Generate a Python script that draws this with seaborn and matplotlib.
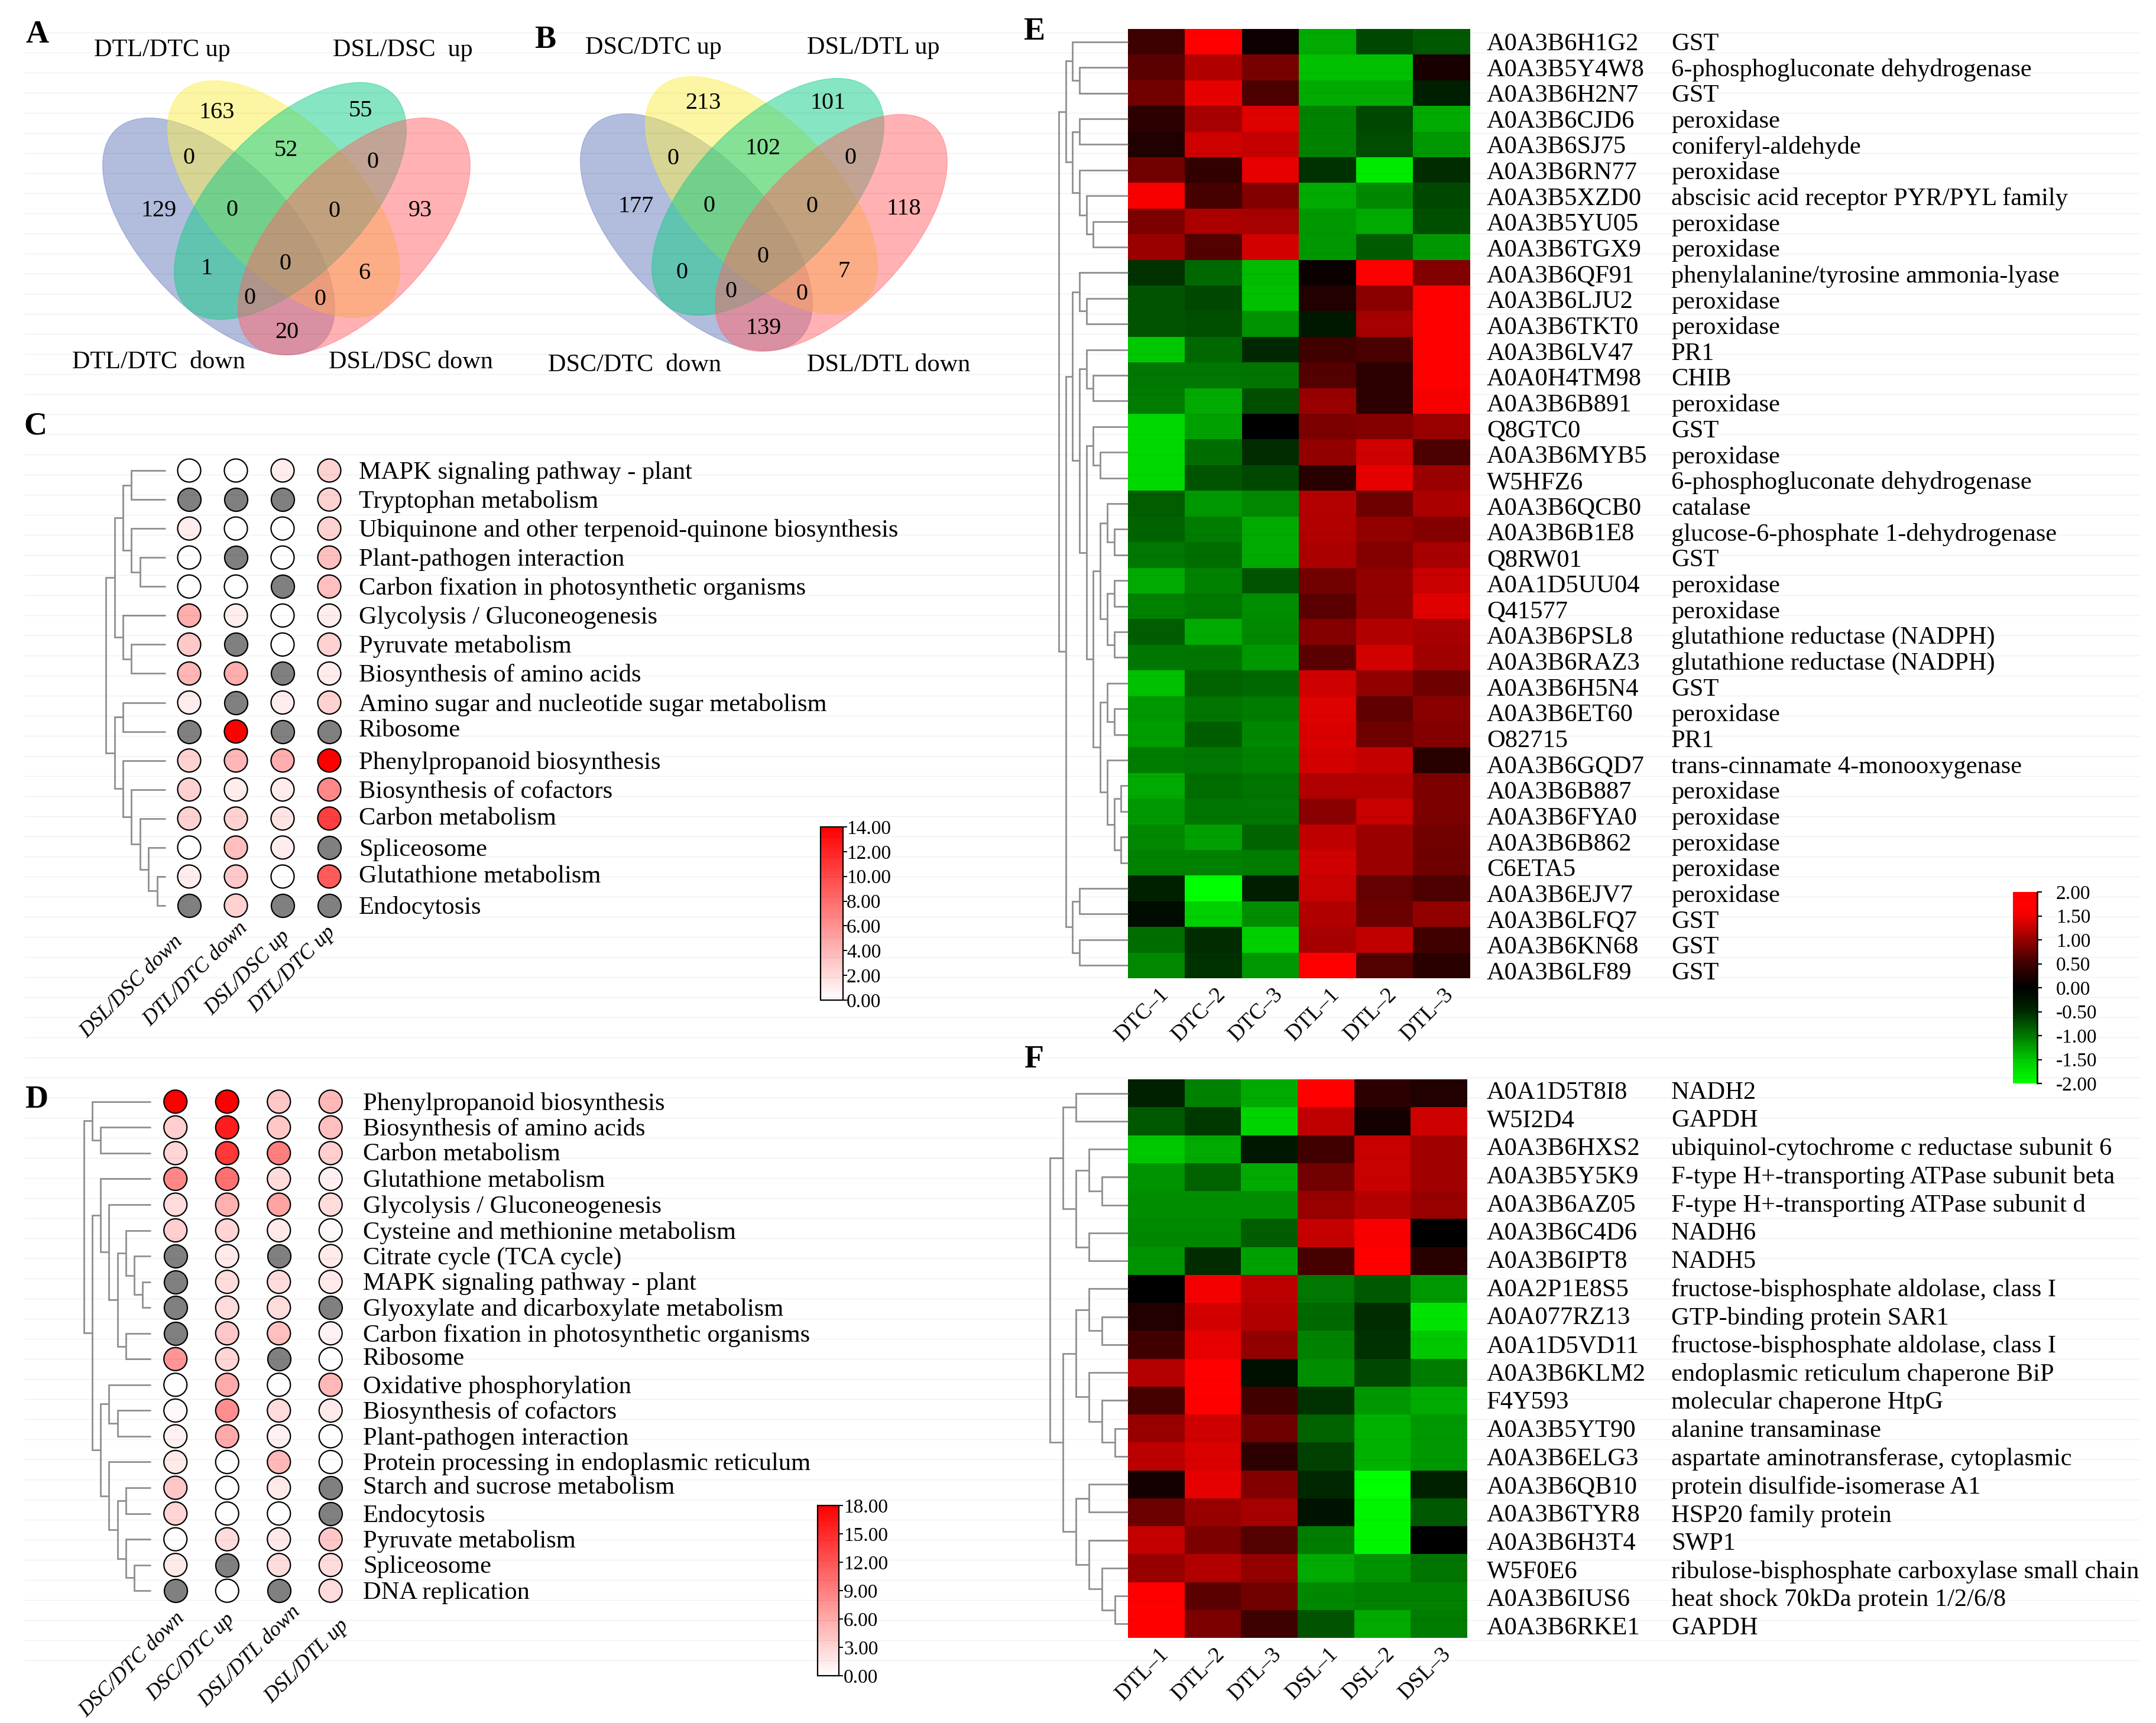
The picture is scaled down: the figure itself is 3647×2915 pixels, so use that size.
import numpy as np
import pandas as pd
import seaborn as sns
import matplotlib
matplotlib.use("Agg")
import matplotlib.pyplot as plt
from matplotlib.patches import Ellipse
from matplotlib.colors import LinearSegmentedColormap, Normalize
from matplotlib.cm import ScalarMappable
from matplotlib.transforms import ScaledTranslation

# ------------------------- DATA -------------------------
venn_a_sets = ["DTL/DTC up", "DSL/DSC  up", "DTL/DTC  down", "DSL/DSC down"]
venn_a_counts = [163, 55, 52, 0, 0, 129, 0, 0, 93, 1, 0, 6, 0, 0, 20]
venn_b_sets = ["DSC/DTC up", "DSL/DTL up", "DSC/DTC  down", "DSL/DTL down"]
venn_b_counts = [213, 101, 102, 0, 0, 177, 0, 0, 118, 0, 0, 7, 0, 0, 139]

nan = float("nan")
c_columns = ["DSL/DSC down", "DTL/DTC down", "DSL/DSC up", "DTL/DTC up"]
c_terms = ["MAPK signaling pathway - plant", "Tryptophan metabolism",
           "Ubiquinone and other terpenoid-quinone biosynthesis", "Plant-pathogen interaction",
           "Carbon fixation in photosynthetic organisms", "Glycolysis / Gluconeogenesis",
           "Pyruvate metabolism", "Biosynthesis of amino acids",
           "Amino sugar and nucleotide sugar metabolism", "Ribosome",
           "Phenylpropanoid biosynthesis", "Biosynthesis of cofactors", "Carbon metabolism",
           "Spliceosome", "Glutathione metabolism", "Endocytosis"]
c_values = [[0, 0, 1, 2.5], [nan, nan, nan, 2.5], [1, 0, 0, 2.5], [0, nan, 0, 3.5],
            [0, 0, nan, 3.5], [4.5, 1, 0, 1], [3, nan, 0, 2.5], [4, 4.5, nan, 1],
            [1, nan, 1, 2.5], [nan, 14, nan, nan], [2.5, 4, 4.5, 14], [2.5, 1, 1, 6.5],
            [2.5, 2.5, 1.5, 10.5], [0, 3.5, 1, nan], [1, 3, 0, 9], [nan, 2.5, nan, nan]]
c_tree = (7, (6, (5, (4, 0, 1), (4, 2, (3, 3, 4))), (5, 5, (4, 6, 7))),
          (6, (5, 8, 9), (5, 10, (4, 11, (3, 12, (2, 13, (1, 14, 15)))))))

d_columns = ["DSC/DTC down", "DSC/DTC up", "DSL/DTL down", "DSL/DTL up"]
d_terms = ["Phenylpropanoid biosynthesis", "Biosynthesis of amino acids", "Carbon metabolism",
           "Glutathione metabolism", "Glycolysis / Gluconeogenesis",
           "Cysteine and methionine metabolism", "Citrate cycle (TCA cycle)",
           "MAPK signaling pathway - plant", "Glyoxylate and dicarboxylate metabolism",
           "Carbon fixation in photosynthetic organisms", "Ribosome", "Oxidative phosphorylation",
           "Biosynthesis of cofactors", "Plant-pathogen interaction",
           "Protein processing in endoplasmic reticulum", "Starch and sucrose metabolism",
           "Endocytosis", "Pyruvate metabolism", "Spliceosome", "DNA replication"]
d_values = [[18, 18, 4, 5], [3.5, 16, 4, 4.5], [3, 14, 9, 3.5], [8.5, 10, 2.5, 1],
            [2.5, 5.5, 6.5, 2.5], [3.5, 3, 1.5, 0.5], [nan, 1.5, nan, 1.5], [nan, 2.5, 2.5, 1.5],
            [nan, 2.5, 2.5, nan], [nan, 4, 4.5, 1], [7.5, 3, nan, 0], [0, 6, 0, 5],
            [0.5, 8, 2.5, 1.5], [1, 6, 1, 0], [1.5, 0, 5, 0], [4, 0, 1.5, nan],
            [3, 0, 0, nan], [0, 2.5, 1.5, 4], [1.5, nan, 2.5, 2.5], [nan, 0, nan, 2.5]]
d_tree = (8, (7, 0, (6, 1, 2)),
          (7, (6, 3, (5, 4, (4, (3, 5, (2, 6, (1, 7, 8))), (3, 9, 10)))),
           (6, (5, 11, (4, 12, 13)),
            (5, 14, (4, (3, 15, 16), (3, 17, (2, 18, 19)))))))

e_columns = ["DTC\u20131", "DTC\u20132", "DTC\u20133", "DTL\u20131", "DTL\u20132", "DTL\u20133"]
e_ids = ["A0A3B6H1G2", "A0A3B5Y4W8", "A0A3B6H2N7", "A0A3B6CJD6", "A0A3B6SJ75", "A0A3B6RN77",
         "A0A3B5XZD0", "A0A3B5YU05", "A0A3B6TGX9", "A0A3B6QF91", "A0A3B6LJU2", "A0A3B6TKT0",
         "A0A3B6LV47", "A0A0H4TM98", "A0A3B6B891", "Q8GTC0", "A0A3B6MYB5", "W5HFZ6",
         "A0A3B6QCB0", "A0A3B6B1E8", "Q8RW01", "A0A1D5UU04", "Q41577", "A0A3B6PSL8",
         "A0A3B6RAZ3", "A0A3B6H5N4", "A0A3B6ET60", "O82715", "A0A3B6GQD7", "A0A3B6B887",
         "A0A3B6FYA0", "A0A3B6B862", "C6ETA5", "A0A3B6EJV7", "A0A3B6LFQ7", "A0A3B6KN68",
         "A0A3B6LF89"]
e_desc = ["GST", "6-phosphogluconate dehydrogenase", "GST", "peroxidase", "coniferyl-aldehyde",
          "peroxidase", "abscisic acid receptor PYR/PYL family", "peroxidase", "peroxidase",
          "phenylalanine/tyrosine ammonia-lyase", "peroxidase", "peroxidase", "PR1", "CHIB",
          "peroxidase", "GST", "peroxidase", "6-phosphogluconate dehydrogenase", "catalase",
          "glucose-6-phosphate 1-dehydrogenase", "GST", "peroxidase", "peroxidase",
          "glutathione reductase (NADPH)", "glutathione reductase (NADPH)", "GST", "peroxidase",
          "PR1", "trans-cinnamate 4-monooxygenase", "peroxidase", "peroxidase", "peroxidase",
          "peroxidase", "peroxidase", "GST", "GST", "GST"]
e_values = [
    [0.5, 1.8, 0.12, -1.3, -0.7, -0.8], [0.67, 1.15, 0.83, -1.45, -1.45, 0.2],
    [0.8, 1.45, 0.58, -1.3, -1.3, -0.38], [0.37, 1.08, 1.4, -1.05, -0.7, -1.3],
    [0.28, 1.3, 1.25, -1.06, -0.72, -1.2], [0.8, 0.42, 1.45, -0.55, -1.8, -0.52],
    [1.6, 0.55, 0.88, -1.3, -1.1, -0.7], [0.85, 1.12, 1.08, -1.2, -1.3, -0.75],
    [1.03, 0.62, 1.33, -1.2, -0.82, -1.2], [-0.55, -0.9, -1.42, 0.08, 1.8, 0.88],
    [-0.78, -0.7, -1.45, 0.28, 0.93, 1.7], [-0.78, -0.75, -1.17, -0.3, 1.08, 1.8],
    [-1.5, -0.9, -0.5, 0.53, 0.57, 1.8], [-1.0, -1.0, -0.97, 0.63, 0.37, 1.8],
    [-1.03, -1.3, -0.75, 1.0, 0.37, 1.6], [-1.65, -1.25, 0.0, 0.85, 0.9, 1.0],
    [-1.65, -0.93, -0.53, 0.97, 1.3, 0.58], [-1.65, -0.78, -0.7, 0.33, 1.45, 1.03],
    [-0.83, -1.2, -1.1, 1.17, 0.78, 1.12], [-0.87, -1.03, -1.3, 1.15, 0.97, 0.9],
    [-1.0, -0.93, -1.3, 1.12, 0.9, 1.08], [-1.3, -1.06, -0.78, 0.8, 0.97, 1.28],
    [-1.06, -1.0, -1.13, 0.67, 0.97, 1.4], [-0.83, -1.3, -1.1, 0.9, 1.15, 1.08],
    [-1.0, -0.97, -1.2, 0.67, 1.33, 1.05], [-1.45, -0.87, -0.9, 1.3, 0.97, 0.78],
    [-1.2, -0.97, -1.03, 1.4, 0.7, 0.93], [-1.22, -0.83, -1.1, 1.37, 0.78, 0.9],
    [-1.03, -1.0, -1.06, 1.33, 1.25, 0.33], [-1.3, -0.93, -0.97, 1.15, 1.15, 0.85],
    [-1.2, -0.97, -1.0, 0.93, 1.28, 0.85], [-1.1, -1.25, -0.87, 1.22, 1.03, 0.8],
    [-1.06, -1.06, -1.03, 1.3, 1.03, 0.78], [-0.42, -2.0, -0.38, 1.28, 0.72, 0.58],
    [-0.15, -1.55, -1.13, 1.15, 0.75, 0.97], [-0.93, -0.53, -1.55, 1.08, 1.22, 0.53],
    [-1.1, -0.55, -1.2, 1.8, 0.62, 0.33]]
e_tree = (10,
          (9, (8, 0, (7, 1, 2)), (8, (7, 3, 4), (7, 5, (6, 6, (5, 7, 8))))),
          (9, (8, (7, 9, (6, 10, 11)),
               (7, (6, 12, (5, 13, 14)),
                (6, (5, 15, (4, 16, 17)),
                 (5, (4, (3, 18, (2, 19, 20)), (3, (2, 21, 22), (2, 23, 24))),
                  (4, (3, 25, (2, 26, 27)),
                   (3, 28, (2, (1, 29, 30), (1, 31, 32)))))))),
           (8, (7, 33, 34), (7, 35, 36))))

f_columns = ["DTL\u20131", "DTL\u20132", "DTL\u20133", "DSL\u20131", "DSL\u20132", "DSL\u20133"]
f_ids = ["A0A1D5T8I8", "W5I2D4", "A0A3B6HXS2", "A0A3B5Y5K9", "A0A3B6AZ05", "A0A3B6C4D6",
         "A0A3B6IPT8", "A0A2P1E8S5", "A0A077RZ13", "A0A1D5VD11", "A0A3B6KLM2", "F4Y593",
         "A0A3B5YT90", "A0A3B6ELG3", "A0A3B6QB10", "A0A3B6TYR8", "A0A3B6H3T4", "W5F0E6",
         "A0A3B6IUS6", "A0A3B6RKE1"]
f_desc = ["NADH2", "GAPDH", "ubiquinol-cytochrome c reductase subunit 6",
          "F-type H+-transporting ATPase subunit beta", "F-type H+-transporting ATPase subunit d",
          "NADH6", "NADH5", "fructose-bisphosphate aldolase, class I", "GTP-binding protein SAR1",
          "fructose-bisphosphate aldolase, class I", "endoplasmic reticulum chaperone BiP",
          "molecular chaperone HtpG", "alanine transaminase", "aspartate aminotransferase, cytoplasmic",
          "protein disulfide-isomerase A1", "HSP20 family protein", "SWP1",
          "ribulose-bisphosphate carboxylase small chain", "heat shock 70kDa protein 1/2/6/8", "GAPDH"]
f_values = [
    [-0.42, -1.06, -1.3, 1.8, 0.37, 0.28], [-0.8, -0.6, -1.6, 1.22, 0.17, 1.3],
    [-1.5, -1.3, -0.3, 0.53, 1.28, 1.05], [-1.17, -0.87, -1.3, 0.8, 1.28, 1.05],
    [-1.13, -1.13, -1.13, 1.0, 1.17, 1.0], [-1.1, -1.1, -0.83, 1.25, 1.6, 0.0],
    [-1.17, -0.52, -1.25, 0.55, 1.8, 0.33], [0.0, 1.55, 1.2, -1.0, -0.8, -1.2],
    [0.28, 1.33, 1.15, -0.9, -0.53, -1.75], [0.53, 1.45, 0.97, -1.06, -0.56, -1.5],
    [1.17, 1.8, -0.2, -1.13, -0.7, -1.03], [0.55, 1.8, 0.53, -0.55, -1.2, -1.3],
    [1.0, 1.3, 0.78, -0.87, -1.35, -1.2], [1.2, 1.37, 0.37, -0.65, -1.35, -1.2],
    [0.17, 1.45, 0.88, -0.5, -2.0, -0.42], [0.75, 1.0, 1.08, -0.25, -1.9, -0.8],
    [1.25, 0.85, 0.63, -1.03, -1.9, 0.0], [1.0, 1.15, 0.97, -1.3, -1.17, -0.97],
    [1.7, 0.67, 0.8, -1.1, -1.06, -1.06], [1.7, 0.85, 0.5, -0.78, -1.3, -1.03]]
f_tree = (6,
          (5, (4, 0, 1), (4, (3, 2, (2, 3, 4)), (3, 5, 6))),
          (5, (4, (3, 7, (2, 8, 9)), (3, 10, (2, 11, (1, 12, 13)))),
           (4, (3, 14, 15), (3, 16, (2, 17, (1, 18, 19))))))

scale_c_ticks = [0, 2, 4, 6, 8, 10, 12, 14]
scale_d_ticks = [0, 3, 6, 9, 12, 15, 18]
scale_e_ticks = [-2, -1.5, -1, -0.5, 0, 0.5, 1, 1.5, 2]

# ------------------------- STYLE / LAYOUT -------------------------
sns.set_theme(style="white")
plt.rcParams["font.family"] = ["Liberation Serif", "DejaVu Serif"]
W, H = 3648, 2915
fig = plt.figure(figsize=(W / 100, H / 100), dpi=100, facecolor="white")
FS = 30.6
LINE = "#8f8f8f"


def px_axes(x0, y0, x1, y1, **kw):
    return fig.add_axes([x0 / W, 1 - y1 / H, (x1 - x0) / W, (y1 - y0) / H], **kw)


def shift(label, dx, dy):
    label.set_transform(label.get_transform() + ScaledTranslation(dx / 100, -dy / 100, fig.dpi_scale_trans))


def draw_tree(ax, node, offset):
    """Recursive dendrogram: node = (height, left, right), leaves are row numbers."""
    if not isinstance(node, tuple):
        return 0.0, node + offset
    h, a, b = node
    ha, ya = draw_tree(ax, a, offset)
    hb, yb = draw_tree(ax, b, offset)
    ax.plot([-ha, -h, -h, -hb], [ya, ya, yb, yb], color=LINE, lw=2, solid_joinstyle="miter",
            solid_capstyle="butt", clip_on=False)
    return h, (ya + yb) / 2


def tree_axes(main_ax, tree, x_leaf, unit, offset):
    top = tree[0]
    bbox = main_ax.get_position()
    ax = fig.add_axes([(x_leaf - unit * top) / W, bbox.y0, unit * top / W, bbox.height])
    ax.set_xlim(-top, 0)
    ax.set_ylim(main_ax.get_ylim())
    ax.axis("off")
    draw_tree(ax, tree, offset)
    return ax


canvas = px_axes(0, 0, W, H)
canvas.set_xlim(0, W)
canvas.set_ylim(H, 0)
canvas.axis("off")

# ------------------------- VENN -------------------------
ELLIPSE_COLORS = ["#677bbd", "#fbef4b", "#0fcd87", "#ff6569"]
ELLIPSE_ANGLES = [46, 46, -46, -46]


def venn(centers, set_pos, count_pos, sets, counts):
    for (cx, cy), col, ang in zip(centers, ELLIPSE_COLORS, ELLIPSE_ANGLES):
        canvas.add_patch(Ellipse((cx, cy), 502, 251, angle=ang, facecolor=col, alpha=0.5,
                                 edgecolor=col, lw=0.8))
    for (x, y), s in zip(set_pos, sets):
        canvas.text(x, y + 4, s, ha="center", va="center", fontsize=30.3, color="black")
    for (x, y), n in zip(count_pos, counts):
        canvas.text(x, y + 3, str(n), ha="center", va="center", fontsize=29, color="black")


venn([(370, 400), (480, 337), (491, 340), (599, 400)],
     [(274, 81), (681, 81), (268, 609), (695, 609)],
     [(367, 187), (610, 184), (484, 251), (320, 264), (631, 271), (269, 353), (393, 352), (566, 354),
      (711, 353), (350, 451), (483, 443), (616, 459), (423, 501), (542, 503), (485, 559)],
     venn_a_sets, venn_a_counts)
venn([(1178, 393), (1288, 330), (1299, 333), (1406, 394)],
     [(1105, 77), (1477, 77), (1074, 614), (1503, 614)],
     [(1189, 171), (1401, 171), (1291, 248), (1139, 265), (1439, 264), (1076, 346), (1200, 345),
      (1374, 346), (1529, 350), (1154, 458), (1291, 431), (1427, 456), (1237, 490), (1357, 494),
      (1292, 552)],
     venn_b_sets, venn_b_counts)

for letter, x, y in [("A", 63, 59), ("B", 922, 68), ("C", 60, 721), ("D", 62, 1861),
                     ("E", 1749, 54), ("F", 1749, 1793)]:
    canvas.text(x, y, letter, ha="center", va="center", fontsize=39, fontweight="bold", color="black")

# ------------------------- BUBBLE PANELS -------------------------
white_red = LinearSegmentedColormap.from_list("wr", ["#ffffff", "#ff0000"])


def bubbles(rect, values, terms, columns, vmax, tree, x_leaf, unit, label_px, ends, nudges):
    x0, y0, x1, y1 = rect
    ax = px_axes(x0, y0, x1, y1)
    df = pd.DataFrame(values, index=terms, columns=columns).reset_index(names="term")
    long = df.melt(id_vars="term", var_name="group", value_name="v")
    long["x"] = long["group"].map({c: i for i, c in enumerate(columns)})
    long["y"] = long["term"].map({t: i for i, t in enumerate(terms)})
    present = long.dropna(subset=["v"])
    missing = long[long["v"].isna()]
    sns.scatterplot(data=present, x="x", y="y", hue="v", hue_norm=(0, vmax), palette=white_red, s=790,
                    edgecolor="black", linewidth=1.6, legend=False, ax=ax, clip_on=False)
    sns.scatterplot(data=missing, x="x", y="y", color="#808080", s=790,
                    edgecolor="black", linewidth=1.6, legend=False, ax=ax, clip_on=False)
    ax.set_xlim(-0.5, len(columns) - 0.5)
    ax.set_ylim(len(terms) - 0.5, -0.5)
    ax.set_xlabel("")
    ax.set_ylabel("")
    ax.patch.set_alpha(0)
    sns.despine(ax=ax, left=True, bottom=True)
    ax.yaxis.tick_right()
    ax.set_yticks(range(len(terms)))
    ax.set_yticklabels(terms, fontsize=FS, color="black")
    ax.tick_params(axis="y", length=0, pad=(label_px - x1) * 0.72)
    ax.set_xticks(range(len(columns)))
    ax.set_xticklabels(columns, rotation=45, ha="right", va="top", rotation_mode="anchor",
                       fontsize=26, fontstyle="italic", color="black")
    ax.tick_params(axis="x", length=0, pad=0)
    fig.canvas.draw()
    for lab, (ex, ey), cx in zip(ax.get_xticklabels(), ends, range(len(columns))):
        tx = x0 + (cx + 0.5) * (x1 - x0) / len(columns)
        shift(lab, ex - tx - 16, ey - y1 - 11)
    for lab in ax.get_yticklabels():
        shift(lab, 0, nudges.get(lab.get_text(), -1))
    tree_axes(ax, tree, x_leaf, unit, 0)
    return ax


def bubble_bar(rect, vmax, ticks, label_px):
    x0, y0, x1, y1 = rect
    cax = px_axes(x0, y0, x1, y1)
    cb = fig.colorbar(ScalarMappable(Normalize(0, vmax), white_red), cax=cax, ticks=ticks)
    cb.set_ticklabels([f"{t:.2f}" for t in ticks])
    cb.outline.set_edgecolor("black")
    cb.outline.set_linewidth(1.6)
    cax.tick_params(length=5, width=1.4, color="black", labelsize=24, pad=(label_px - x1 - 7) * 0.72,
                    labelcolor="black", right=True)


c_ax = bubbles((280.5, 771.5, 596.5, 1556.5), c_values, c_terms, c_columns, 14, c_tree, 280, 14.4, 607,
               [(309, 1588), (418, 1565), (490, 1579), (567, 1572)],
               {"Ribosome": -6, "Carbon metabolism": -5, "Glutathione metabolism": -5})
bubble_bar((1388, 1399, 1426, 1692), 14, scale_c_ticks, 1432)
d_ax = bubbles((253, 1842, 603, 2713), d_values, d_terms, d_columns, 18, d_tree, 255, 14.1, 614,
               [(312, 2732), (396, 2734), (508, 2721), (589, 2745)],
               {"Ribosome": -5, "Starch and sucrose metabolism": -5, "Carbon metabolism": -3})
bubble_bar((1383, 2547, 1419, 2835), 18, scale_d_ticks, 1427)

# ------------------------- HEATMAPS -------------------------
red_green = LinearSegmentedColormap.from_list("rg", [
    (0.0, (0, 1, 0)), (0.125, (0, 200 / 255, 0)), (0.25, (0, 120 / 255, 0)), (0.375, (0, 40 / 255, 0)),
    (0.5, (0, 0, 0)), (0.625, (60 / 255, 0, 0)), (0.75, (150 / 255, 0, 0)), (0.875, (240 / 255, 0, 0)),
    (0.925, (1, 0, 0)), (1.0, (1, 0, 0))], N=256)


def heat(rect, values, ids, desc, columns, tree, unit, desc_px, id_px, label_first, label_step, cbar_ax=None):
    x0, y0, x1, y1 = rect
    ax = px_axes(x0, y0, x1, y1)
    df = pd.DataFrame(values, index=ids, columns=columns)
    kw = dict(cbar=False)
    if cbar_ax is not None:
        kw = dict(cbar=True, cbar_ax=cbar_ax, cbar_kws={"ticks": scale_e_ticks})
    sns.heatmap(df, ax=ax, cmap=red_green, vmin=-2, vmax=2, xticklabels=columns, yticklabels=ids, **kw)
    ax.set_ylabel("")
    ax.yaxis.tick_right()
    ax.set_yticks(np.arange(len(ids)) + 0.5)
    ax.set_yticklabels(ids, rotation=0, fontsize=FS, color="black", ha="left")
    ax.tick_params(axis="y", length=0, pad=(id_px - x1) * 0.72)
    ax.set_xticklabels(columns, rotation=45, ha="right", va="top", rotation_mode="anchor",
                       fontsize=27, color="black")
    ax.tick_params(axis="x", length=0, pad=0)
    fig.canvas.draw()
    for lab in ax.get_xticklabels():
        shift(lab, 3, 10)
    row_h = (y1 - y0) / len(ids)
    tr = ax.get_yaxis_transform()
    for i, (lab, d) in enumerate(zip(ax.get_yticklabels(), desc)):
        want = label_first + i * label_step
        shift(lab, 0, want - (y0 + (i + 0.5) * row_h))
        ax.text((desc_px - x0) / (x1 - x0), (want - y0) / row_h, d, transform=tr, ha="left",
                va="center_baseline", fontsize=FS, color="black", clip_on=False)
    tree_axes(ax, tree, x0, unit, 0.5)
    return ax


e_cax = px_axes(3405, 1509, 3446, 1833)
e_ax = heat((1908, 49, 2487, 1655), e_values, e_ids, e_desc, e_columns, e_tree, 11.7, 2827, 2515,
            70, 43.67, e_cax)
cb = e_ax.collections[0].colorbar
cb.set_ticklabels([f"{t:.2f}" for t in scale_e_ticks])
cb.outline.set_visible(False)
e_cax.axvline(1, color="black", lw=1.8, clip_on=False)
e_cax.tick_params(length=6, width=1.6, color="black", labelsize=24, pad=17, labelcolor="black", right=True)
heat((1908, 1826, 2482, 2771), f_values, f_ids, f_desc, f_columns, f_tree, 22, 2827, 2515, 1844, 47.7)

# ------------------------- FAINT RULES ACROSS THE SHEET -------------------------
overlay = px_axes(0, 0, W, H)
overlay.set_xlim(0, W)
overlay.set_ylim(H, 0)
overlay.axis("off")
overlay.set_zorder(20)
overlay.hlines(np.arange(55, 2815, 34), 40, 3619, color="black", alpha=0.06, lw=1)

fig.savefig("out.png", dpi=100, facecolor="white")
